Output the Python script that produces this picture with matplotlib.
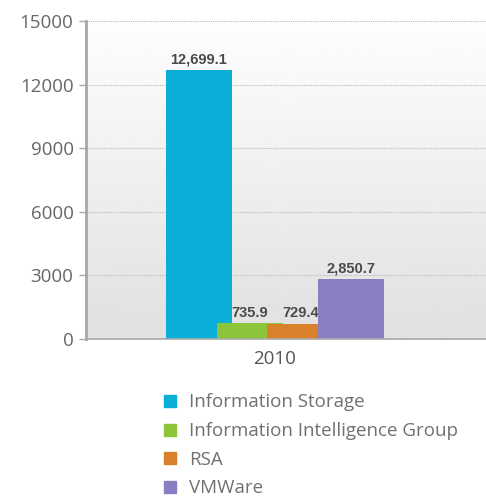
import numpy as np
import matplotlib.pyplot as plt
from matplotlib.lines import Line2D

plt.rcParams['font.family'] = ['Open Sans', 'DejaVu Sans']

# Data
year = '2010'
segments = ['Information Storage', 'Information Intelligence Group', 'RSA', 'VMWare']
revenue = [12699.1, 735.9, 729.4, 2850.7]
value_labels = ['12,699.1', '735.9', '729.4', '2,850.7']
colors = ['#0aafd7', '#8cc43a', '#d8812a', '#8a7dc2']
yticks = [0, 3000, 6000, 9000, 12000, 15000]

fig = plt.figure(figsize=(4.86, 4.98), dpi=100)
ax = fig.add_axes([86 / 486, 1 - 339 / 498, 400 / 486, 318 / 498])

# gradient background
grad = np.linspace(0.88, 0.995, 256).reshape(-1, 1)
ax.imshow(grad, cmap='gray', vmin=0, vmax=1, aspect='auto', origin='lower',
          extent=[0, 1, 0, 1], transform=ax.transAxes, zorder=0)

step = 0.25
width = 0.325
for i, (val, lab, c) in enumerate(zip(revenue, value_labels, colors)):
    x = (i - 1.5) * step
    ax.bar(x, val, width=width, color=c, zorder=2)
    ax.text(x, val + 150, lab, ha='center', va='bottom', fontsize=10.5,
            fontweight='bold', color='#4a4a4a', family='Liberation Sans',
            zorder=2)

ax.set_xlim(-0.931, 1.039)
ax.set_ylim(0, 15000)
ax.set_yticks(yticks)
ax.set_yticklabels([str(t) for t in yticks], fontsize=13.5, color='#666666')
ax.set_xticks([0])
ax.set_xticklabels([year], fontsize=13.5, color='#555555')
ax.tick_params(axis='x', length=0, pad=8)
ax.tick_params(axis='y', length=5, color='#aaaaaa', width=1, pad=4)
ax.yaxis.grid(True, linestyle=(0, (1, 1)), color='#bbbbbb', linewidth=0.8, zorder=1)
ax.set_axisbelow(True)
for s in ['top', 'right']:
    ax.spines[s].set_visible(False)
ax.spines['left'].set_color('#a8a8a8')
ax.spines['left'].set_linewidth(2)
ax.spines['bottom'].set_color('#aaaaaa')
ax.spines['bottom'].set_linewidth(1.2)

handles = [Line2D([], [], marker='s', linestyle='none', markersize=8.5,
                  markerfacecolor=c, markeredgecolor=c) for c in colors]
fig.legend(handles, segments, loc='upper left', bbox_to_anchor=(0.335, 0.21),
           frameon=False, fontsize=13.5, labelcolor='#707070',
           handlelength=0.8, handletextpad=0.6, labelspacing=0.57,
           borderaxespad=0, borderpad=0)

fig.savefig('out.png', dpi=100)
